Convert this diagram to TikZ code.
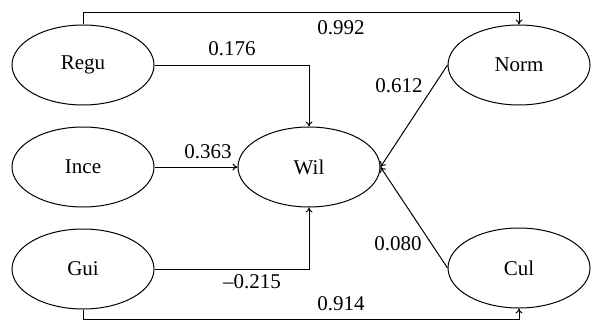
\documentclass[tikz,border=0pt]{standalone}
\usepackage{fontspec}
\setmainfont{Liberation Serif}
\usetikzlibrary{shapes.geometric,arrows.meta}
\begin{document}
\begin{tikzpicture}[x=1pt,y=-1pt,
  lat/.style={draw,ellipse,minimum width=142pt,minimum height=80pt,inner sep=0pt,line width=1pt,font=\rmfamily\fontsize{21}{24}\selectfont},
  conn/.style={line width=1pt,-{To[length=5pt,width=7pt]}},
  lab/.style={font=\rmfamily\fontsize{21}{24}\selectfont,inner sep=0pt}]
\useasboundingbox (0,0) rectangle (591,321);
\node[lat] (regu) at (83,65) {Regu};
\node[lat] (ince) at (83,167) {Ince};
\node[lat] (gui) at (83,269) {Gui};
\node[lat] (wil) at (309,167) {Wil};
\node[lat] (norm) at (519,65) {Norm};
\node[lat] (cul) at (519,268) {Cul};
\coordinate (t1) at (83,13);
\coordinate (t2) at (519,13);
\coordinate (b1) at (83,319);
\coordinate (b2) at (519,319);
\draw[conn] (regu.north) -- (t1) -- (t2) -- (norm.north);
\draw[conn] (gui.south) -- (b1) -- (b2) -- (cul.south);
\draw[conn] (regu.east) -| (wil.north);
\draw[conn] (gui.east) -| (wil.south);
\draw[conn] (ince.east) -- (wil.west);
\draw[conn] (norm.west) -- (wil.east);
\draw[conn] (cul.west) -- (wil.east);
\node[lab] (l1) at (341,28) {0.992};
\node[lab] (l2) at (232,49) {0.176};
\node[lab] (l3) at (399,86) {0.612};
\node[lab] (l4) at (208,152) {0.363};
\node[lab] (l5) at (398,244) {0.080};
\node[lab] (l6) at (252,282) {\textendash0.215};
\node[lab] (l7) at (341,304) {0.914};
\end{tikzpicture}
\end{document}
